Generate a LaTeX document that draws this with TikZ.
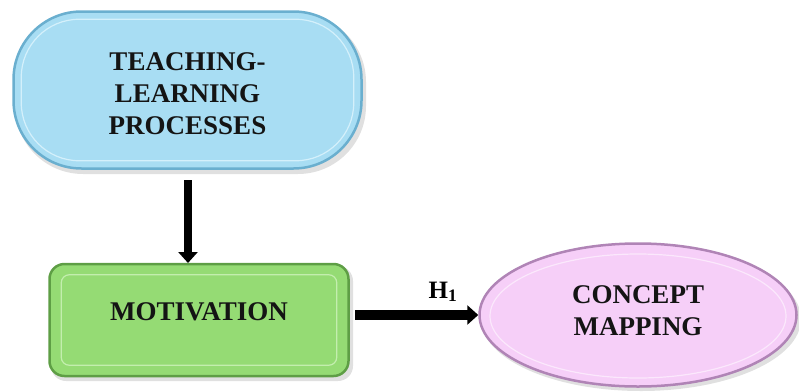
\documentclass[tikz,border=0pt]{standalone}
\usepackage{fontspec}
\setmainfont{Liberation Serif}
\usetikzlibrary{shapes.geometric,arrows.meta}
\definecolor{bluefill}{HTML}{A8DDF3}
\definecolor{blueedge}{HTML}{6AAFCF}
\definecolor{bluelight}{HTML}{D4F0FB}
\definecolor{greenfill}{HTML}{95DB74}
\definecolor{greenedge}{HTML}{5E9E45}
\definecolor{greenlight}{HTML}{C3EEAE}
\definecolor{pinkfill}{HTML}{F6CFF8}
\definecolor{pinkedge}{HTML}{B084B6}
\definecolor{pinklight}{HTML}{FBE8FC}
\tikzset{
  x=1pt, y=-1pt,
  lbl/.style={font=\fontsize{27}{32}\selectfont\bfseries, text=black!92, align=center},
  boxT/.style={draw=blueedge, line width=2.5pt, fill=bluefill, rounded corners=68pt,
    minimum width=348pt, minimum height=157pt, inner sep=0pt},
  boxM/.style={draw=greenedge, line width=2.5pt, fill=greenfill, rounded corners=15pt,
    minimum width=299pt, minimum height=112pt, inner sep=0pt},
  ellC/.style={ellipse, draw=pinkedge, line width=2.5pt, fill=pinkfill,
    minimum width=317pt, minimum height=143pt, inner sep=0pt},
  bevel/.style={line width=1.2pt},
  bigarrow/.style={line width=#1, -{Triangle[length=11pt,width=19pt]}},
}
\begin{document}
\begin{tikzpicture}
\useasboundingbox (0,0) rectangle (799,391);
% shadows
\fill[black!12, rounded corners=68pt] (15,14) rectangle (366,174);
\fill[black!12, rounded corners=15pt] (51,266) rectangle (353,381);
\fill[black!12] (641,319) ellipse (160 and 72);
% nodes
\node[boxT] (t) at (187.5,90) {};
\draw[bevel, draw=bluelight, rounded corners=58pt] ([shift={(9,9)}]t.north west) rectangle ([shift={(-9,-9)}]t.south east);
\node[lbl] (tl) at (187.5,94) {TEACHING-\\LEARNING\\PROCESSES};
\node[boxM] (m) at (199,320) {};
\draw[bevel, draw=greenlight, rounded corners=8pt] ([shift={(13,12)}]m.north west) rectangle ([shift={(-13,-12)}]m.south east);
\node[lbl] (ml) at (199,312) {MOTIVATION};
\node[ellC] (c) at (638,315) {};
\draw[bevel, draw=pinklight] (638,316) ellipse (148 and 62);
\node[lbl] (cl) at (638,311) {CONCEPT\\MAPPING};
% connectors
\coordinate (a1) at (188,180);
\coordinate (a2) at (188,263);
\draw[bigarrow=7.5pt] (a1) -- (a2);
\coordinate (b1) at (355,315);
\draw[bigarrow=10pt] (b1) -- (c.west);
\node[font=\fontsize{25}{29}\selectfont\bfseries, anchor=base] (h) at (443,298) {H\textsubscript{1}};
\end{tikzpicture}
\end{document}
